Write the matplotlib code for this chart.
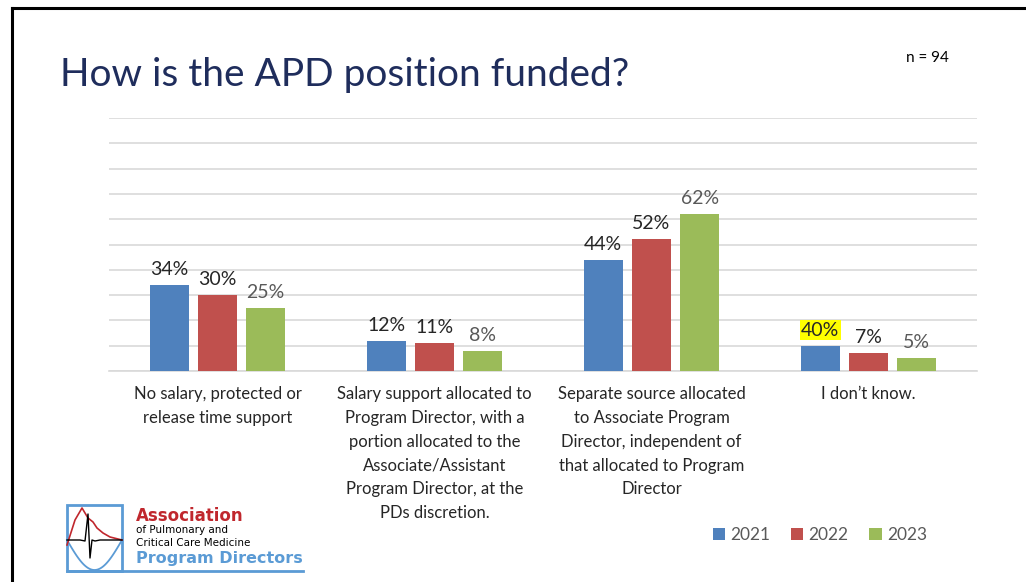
import numpy as np
import matplotlib.pyplot as plt
from matplotlib.patches import Rectangle

categories = [
    "No salary, protected or\nrelease time support",
    "Salary support allocated to\nProgram Director, with a\nportion allocated to the\nAssociate/Assistant\nProgram Director, at the\nPDs discretion.",
    "Separate source allocated\nto Associate Program\nDirector, independent of\nthat allocated to Program\nDirector",
    "I don\u2019t know.",
]
years = ["2021", "2022", "2023"]
vals_2021 = [34, 12, 44, 10]
vals_2022 = [30, 11, 52, 7]
vals_2023 = [25, 8, 62, 5]
labels_2021 = ["34%", "12%", "44%", "40%"]
labels_2022 = ["30%", "11%", "52%", "7%"]
labels_2023 = ["25%", "8%", "62%", "5%"]

colors = ["#4F81BD", "#C0504D", "#9BBB59"]
label_colors = ["#262626", "#262626", "#595959"]

plt.rcParams['font.family'] = ['Lato', 'DejaVu Sans']

fig = plt.figure(figsize=(10.26, 5.82), dpi=100)
fig.patch.set_facecolor("white")

# slide border (top + left)
fig.add_artist(plt.Line2D([12/1026, 12/1026], [0, 1 - 8/582], transform=fig.transFigure,
                          color="black", lw=2.2))
fig.add_artist(plt.Line2D([12/1026, 1], [1 - 8/582, 1 - 8/582], transform=fig.transFigure,
                          color="black", lw=2.2))

ax = fig.add_axes([109/1026, 1 - 371/582, (977 - 109)/1026, 253/582])
x = np.arange(len(categories))
w = 0.178
step = 0.222
series = [vals_2021, vals_2022, vals_2023]
labs = [labels_2021, labels_2022, labels_2023]
for i, (vals, lab) in enumerate(zip(series, labs)):
    bars = ax.bar(x + (i - 1) * step, vals, width=w, color=colors[i], label=years[i], zorder=3)
    for b, t in zip(bars, lab):
        kw = {}
        if i == 0 and t == "40%" and b.get_height() == 10:
            kw["bbox"] = dict(boxstyle="square,pad=0.08", fc="#FFFF00", ec="none")
        ax.annotate(t, (b.get_x() + b.get_width()/2, b.get_height()), xytext=(0, 5),
                    textcoords="offset points", ha="center", va="bottom",
                    fontsize=14, color=label_colors[i], **kw)

ax.set_ylim(0, 100)
ax.set_xlim(-0.5, 3.5)
ax.set_yticks(np.arange(0, 101, 10))
ax.yaxis.grid(True, color="#D9D9D9", lw=1.2)
ax.set_axisbelow(True)
ax.tick_params(axis="y", left=False, labelleft=False)
ax.tick_params(axis="x", length=0, pad=11)
ax.set_xticks(x)
ax.set_xticklabels(categories, fontsize=12, color="#262626", linespacing=1.6, va="top")
for s in ["top", "right", "left"]:
    ax.spines[s].set_visible(False)
ax.spines["bottom"].set_color("#D9D9D9")
ax.spines["bottom"].set_linewidth(1.2)

fig.text(60/1026, 1 - 75/582, "How is the APD position funded?", fontsize=28,
         color="#1F2D5C", va="center", ha="left")
fig.text(906/1026, 1 - 58/582, "n = 94", fontsize=11, color="black", va="center")

leg = ax.legend(loc="center", bbox_to_anchor=(820/1026, 1 - 535/582), bbox_transform=fig.transFigure,
                ncol=3, frameon=False, fontsize=12.5, handlelength=0.7, handleheight=0.7,
                handletextpad=0.3, columnspacing=1.2)
for t in leg.get_texts():
    t.set_color("#595959")

# logo
lx = fig.add_axes([0, 0, 1, 1], zorder=-1)
lx.set_xlim(0, 1026)
lx.set_ylim(582, 0)
lx.axis("off")
lx.add_patch(Rectangle((67, 505), 55, 66, fill=False, ec="#5B9BD5", lw=2))
lx.plot([67, 303], [571, 571], color="#5B9BD5", lw=2)
t = np.linspace(0, 1, 60)
lx.plot(67 + 55*t, 540 + 30*np.sin(np.pi*t), color="#5B9BD5", lw=1.3)
lx.plot([67, 75, 82, 88, 93, 97, 103, 110, 122], [545, 520, 508, 518, 522, 528, 533, 537, 540],
        color="#C0272D", lw=1.2)
lx.plot([67, 80, 85, 88, 90, 92, 95, 100, 122], [540, 540, 541, 514, 558, 540, 541, 540, 540],
        color="black", lw=1.0)
lx.text(136, 516, "Association", color="#C0272D", fontsize=12, fontweight="bold",
        va="center", family="DejaVu Sans")
lx.text(136, 530, "of Pulmonary and", color="black", fontsize=7.5, va="center", family="DejaVu Sans")
lx.text(136, 543, "Critical Care Medicine", color="black", fontsize=7.5, va="center", family="DejaVu Sans")
lx.text(136, 559, "Program Directors", color="#5B9BD5", fontsize=11.5, fontweight="bold",
        va="center", family="DejaVu Sans")

fig.savefig("out.png", dpi=100)
